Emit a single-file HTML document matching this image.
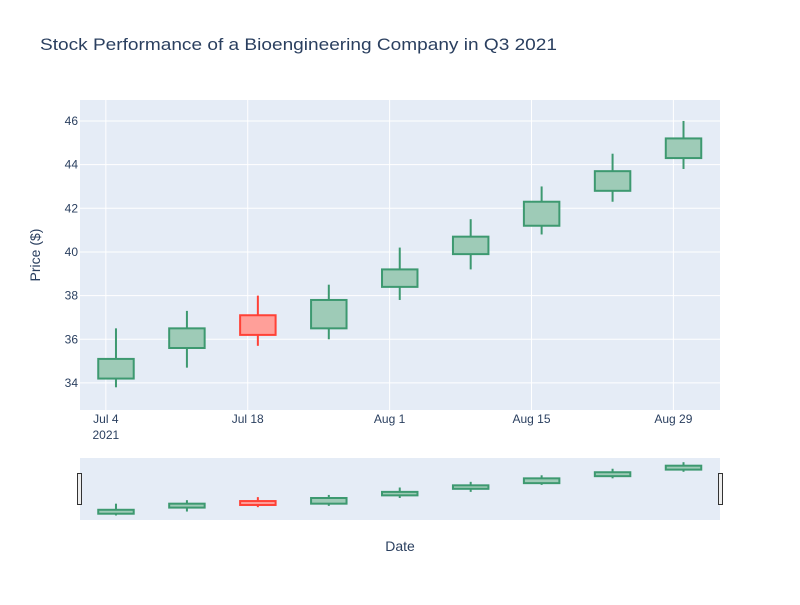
<!DOCTYPE html>
<html><head><meta charset="utf-8">
<style>
body{margin:0;background:#fff;font-family:"Liberation Sans",sans-serif;}
svg text{font-family:"Liberation Sans",sans-serif;}
</style></head>
<body>
<svg id="chart" width="800" height="600" xmlns="http://www.w3.org/2000/svg">
<rect width="800" height="600" fill="#fff"/>
<text x="40" y="50" font-size="17" fill="#2a3f5f" textLength="517" lengthAdjust="spacingAndGlyphs">Stock Performance of a Bioengineering Company in Q3 2021</text>
<rect x="80" y="100" width="640" height="310" fill="#e5ecf6"/>
<g id="grid"></g>
<g id="candles"></g>
<text transform="translate(40,255) rotate(-90)" text-anchor="middle" font-size="14" fill="#2a3f5f">Price ($)</text>
<rect x="80" y="458" width="640" height="62" fill="#e5ecf6"/>
<g id="mini"></g>
<rect x="77.5" y="473.5" width="4" height="31" fill="#eee" stroke="#333"/>
<rect x="718.5" y="473.5" width="4" height="31" fill="#eee" stroke="#333"/>
<text x="400" y="551" text-anchor="middle" font-size="14" fill="#2a3f5f">Date</text>
</svg>
<script>
const dates=["2021-07-05","2021-07-12","2021-07-19","2021-07-26","2021-08-02","2021-08-09","2021-08-16","2021-08-23","2021-08-30"];
const open=[34.2,35.6,37.1,36.5,38.4,39.9,41.2,42.8,44.3];
const close=[35.1,36.5,36.2,37.8,39.2,40.7,42.3,43.7,45.2];
const high=[36.5,37.3,38.0,38.5,40.2,41.5,43.0,44.5,46.0];
const low=[33.8,34.7,35.7,36.0,37.8,39.2,40.8,42.3,43.8];
const yTicks=[34,36,38,40,42,44,46];
const xTickDates=["2021-07-04","2021-07-18","2021-08-01","2021-08-15","2021-08-29"];
const xTickLabels=["Jul 4","Jul 18","Aug 1","Aug 15","Aug 29"];

const NS="http://www.w3.org/2000/svg";
const base=Date.UTC(2021,6,4);
function day(s){const p=s.split("-");return (Date.UTC(+p[0],+p[1]-1,+p[2])-base)/864e5;}
const xMin=-2.55,xMax=60.6,yMin=32.76,yMax=46.96;
function x(d){return 80+(day(d)-xMin)/(xMax-xMin)*640;}
function y(v){return 410-(v-yMin)/(yMax-yMin)*310;}
function ym(v){return 520-(v-yMin)/(yMax-yMin)*62;}
function mk(tag,at,parent){const e=document.createElementNS(NS,tag);for(const k in at)e.setAttribute(k,at[k]);parent.appendChild(e);return e;}
const grid=document.getElementById('grid');
yTicks.forEach(t=>{
 const l=mk('line',{x1:80,x2:720,y1:y(t),y2:y(t),stroke:'#fff','stroke-width':1},grid);
 
 
 const tx=mk('text',{x:78,y:y(t)+4,'text-anchor':'end','font-size':12,fill:'#2a3f5f'},grid);
 tx.textContent=t;
 
 
});
xTickDates.forEach((d,i)=>{
 const l=mk('line',{x1:x(d),x2:x(d),y1:100,y2:410,stroke:'#fff','stroke-width':1},grid);
 
 
 const tx=mk('text',{x:x(d),y:423,'text-anchor':'middle','font-size':12,fill:'#2a3f5f'},grid);
 tx.textContent=xTickLabels[i];
 
 
});
const yr=mk('text',{x:x(xTickDates[0]),y:439,'text-anchor':'middle','font-size':12,fill:'#2a3f5f'},grid);
yr.textContent="2021";


const cg=document.getElementById('candles'),mg=document.getElementById('mini');
const halfW=3.5*0.5*640/(xMax-xMin);
dates.forEach((d,i)=>{
 const up=close[i]>=open[i];
 const col=up?'#3d9970':'#ff4136',fill=up?'#9ecbb7':'#ff9f99';
 const cx=x(d),top=Math.max(open[i],close[i]),bot=Math.min(open[i],close[i]);
 [[y,cg],[ym,mg]].forEach(([f,g],k)=>{
  const gr=mk('g',{},g);
  
  
  mk('line',{x1:cx,x2:cx,y1:f(high[i]),y2:f(top),stroke:col,'stroke-width':2},gr);
  mk('line',{x1:cx,x2:cx,y1:f(bot),y2:f(low[i]),stroke:col,'stroke-width':2},gr);
  mk('rect',{x:cx-halfW,y:f(top),width:2*halfW,height:Math.max(f(bot)-f(top),1),fill:fill,stroke:col,'stroke-width':2},gr);
 });
});
</script>
</body></html>
